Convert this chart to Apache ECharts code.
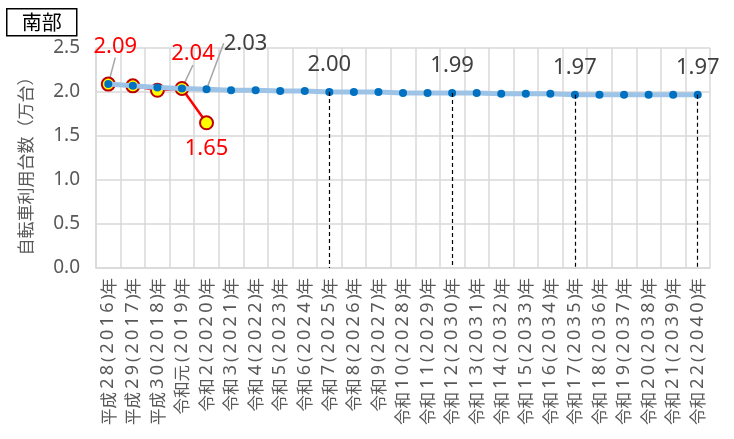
<!DOCTYPE html>
<html>
<head>
<meta charset="utf-8">
<script src="https://cdn.jsdelivr.net/npm/echarts@6/dist/echarts.min.js"></script>
<style>
  html, body { margin: 0; padding: 0; background: #fff; }
  #chart { width: 734px; height: 439px; }
</style>
</head>
<body>
<div id="chart"></div>
<script>
// Fiscal years on the category axis
const categories = [
  '平成28(2016)年', '平成29(2017)年', '平成30(2018)年', '令和元(2019)年', '令和2(2020)年',
  '令和3(2021)年', '令和4(2022)年', '令和5(2023)年', '令和6(2024)年', '令和7(2025)年',
  '令和8(2026)年', '令和9(2027)年', '令和10(2028)年', '令和11(2029)年', '令和12(2030)年',
  '令和13(2031)年', '令和14(2032)年', '令和15(2033)年', '令和16(2034)年', '令和17(2035)年',
  '令和18(2036)年', '令和19(2037)年', '令和20(2038)年', '令和21(2039)年', '令和22(2040)年'
];

// Observed usage (10,000 bicycles)
const actual = [2.09, 2.07, 2.02, 2.04, 1.65];

// Projected usage (10,000 bicycles)
const projected = [
  2.09, 2.07, 2.05, 2.04, 2.03, 2.02, 2.02, 2.01, 2.01, 2.00,
  2.00, 2.00, 1.99, 1.99, 1.99, 1.99, 1.98, 1.98, 1.98, 1.97,
  1.97, 1.97, 1.97, 1.97, 1.97
];

// Projected years whose value is called out with a dashed drop line
const markedYears = [9, 14, 19, 24];

const yTicks = { min: 0, max: 2.5, interval: 0.5 };

const FONT = '"Noto Sans", "Noto Sans CJK JP", sans-serif';
const CJK = '"Noto Sans CJK JP", sans-serif';
const GRID = '#D9D9D9';
const TEXT = '#595959';
const GUIDE = { show: true, lineStyle: { color: '#A6A6A6', width: 1.5 } };

// Offsets of the labels that carry a guide line, keyed by data index
const actualOffsets = { 0: [7, -14], 3: [11, -11] };
const projectedOffsets = { 4: [39, -26] };

const actualData = actual.map((v, i) => {
  const item = { value: v };
  if (actualOffsets[i]) {
    item.label = { show: true, position: 'top' };
    item.labelLine = GUIDE;
  } else if (i === actual.length - 1) {
    item.label = { show: true, position: 'bottom', distance: 7 };
  }
  return item;
});

const projectedData = projected.map((v, i) => {
  const item = { value: v };
  if (projectedOffsets[i]) {
    item.label = { show: true, position: 'top' };
    item.labelLine = GUIDE;
  } else if (markedYears.includes(i)) {
    item.label = { show: true, position: 'top', distance: 12 };
  }
  return item;
});

const offsetLayout = offsets => params => {
  const o = offsets[params.dataIndex];
  return o ? { dx: o[0], dy: o[1] } : {};
};

// Wide-set digits and brackets for the year labels
const yearLabel = text => text
  .replace(/[0-9]/g, c => '{d|' + c + '}')
  .replace(/[()]/g, c => '{p|' + c + '}');

const dropLines = markedYears.map(i => [
  { coord: [categories[i], projected[i]] },
  { coord: [categories[i], 0] }
]);

const chart = echarts.init(document.getElementById('chart'));
chart.setOption({
  animation: false,
  textStyle: { fontFamily: FONT },
  graphic: [{
    type: 'group',
    left: 6, top: 8,
    children: [
      { type: 'rect', shape: { x: 0, y: 0, width: 70, height: 27 },
        style: { fill: '#fff', stroke: '#000', lineWidth: 1.5 } },
      { type: 'text', x: 35, y: 14,
        style: { text: '南部', fontSize: 20, fontFamily: CJK,
                 fill: '#000', align: 'center', verticalAlign: 'middle' } }
    ]
  }],
  grid: { left: 96, right: 24, top: 48, bottom: 171 },
  xAxis: {
    type: 'category',
    data: categories,
    boundaryGap: true,
    axisLine: { lineStyle: { color: GRID, width: 1.5 } },
    axisTick: { show: false },
    splitLine: { show: true, interval: 0, lineStyle: { color: GRID, width: 1.5 } },
    axisLabel: {
      interval: 0, rotate: 90, color: TEXT, fontSize: 16.5, fontFamily: CJK, margin: 10,
      formatter: yearLabel,
      rich: {
        d: { width: 13.6, fontSize: 18, fontFamily: '"Noto Sans", sans-serif', color: TEXT },
        p: { width: 8, fontSize: 17, fontFamily: '"Noto Sans", sans-serif', color: TEXT }
      }
    }
  },
  yAxis: {
    type: 'value',
    min: yTicks.min, max: yTicks.max, interval: yTicks.interval,
    name: '自転車利用台数（万台）',
    nameLocation: 'middle',
    nameGap: 62,
    nameTextStyle: { color: TEXT, fontSize: 17, fontFamily: CJK, padding: [0, 0, 0, -8] },
    axisLine: { show: true, lineStyle: { color: GRID, width: 1.5 } },
    axisTick: { show: false },
    splitLine: { lineStyle: { color: GRID, width: 1.5 } },
    axisLabel: {
      color: TEXT, fontSize: 19, fontFamily: FONT, margin: 16,
      formatter: v => v.toFixed(1)
    }
  },
  series: [
    {
      name: '実績',
      type: 'line',
      data: actualData,
      z: 2,
      symbol: 'circle',
      symbolSize: 13,
      lineStyle: { color: '#FF0000', width: 2.5 },
      itemStyle: { color: '#FFFF00', borderColor: '#C00000', borderWidth: 2 },
      label: { color: '#FF0000', fontSize: 22, fontFamily: FONT,
               formatter: p => p.value.toFixed(2) },
      labelLayout: offsetLayout(actualOffsets)
    },
    {
      name: '推計',
      type: 'line',
      data: projectedData,
      z: 3,
      symbol: 'circle',
      symbolSize: 8,
      lineStyle: { color: '#9DC3E6', width: 5 },
      itemStyle: { color: '#0070C0', borderWidth: 0 },
      label: { color: '#404040', fontSize: 22, fontFamily: FONT,
               formatter: p => p.value.toFixed(2) },
      labelLayout: offsetLayout(projectedOffsets),
      markLine: {
        symbol: 'none',
        silent: true,
        label: { show: false },
        lineStyle: { color: '#000', type: [4, 3], width: 1.2 },
        data: dropLines
      }
    }
  ]
});
</script>
</body>
</html>
